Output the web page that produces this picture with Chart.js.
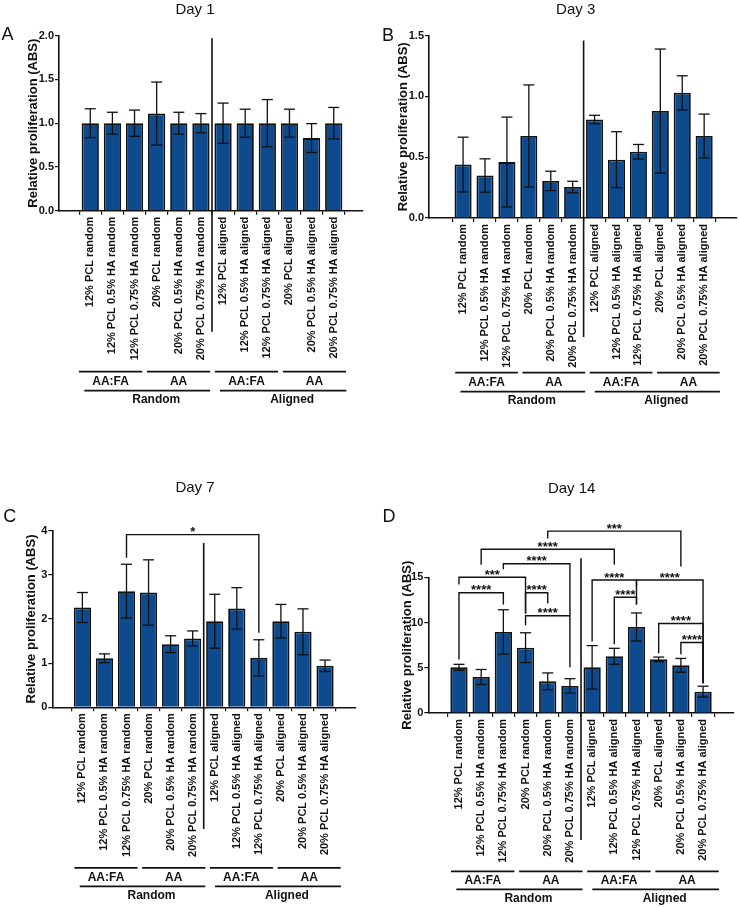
<!DOCTYPE html>
<html>
<head>
<meta charset="utf-8">
<script src="https://cdn.jsdelivr.net/npm/chart.js@4.4.1/dist/chart.umd.min.js"></script>
<style>
  body { margin: 0; background: #fff; width: 739px; height: 907px; position: relative; overflow: hidden; }
  .panel { position: absolute; }
</style>
</head>
<body>
<div class="panel" style="left:0;top:0;width:369px;height:420px"><canvas id="day1"></canvas></div>
<div class="panel" style="left:369px;top:0;width:370px;height:420px"><canvas id="day3"></canvas></div>
<div class="panel" style="left:0;top:470px;width:369px;height:437px"><canvas id="day7"></canvas></div>
<div class="panel" style="left:369px;top:470px;width:370px;height:437px"><canvas id="day14"></canvas></div>
<script>
// scaffold groups, same order in every panel
const groups = [
  '12% PCL random', '12% PCL 0.5% HA random', '12% PCL 0.75% HA random',
  '20% PCL random', '20% PCL 0.5% HA random', '20% PCL 0.75% HA random',
  '12% PCL aligned', '12% PCL 0.5% HA aligned', '12% PCL 0.75% HA aligned',
  '20% PCL aligned', '20% PCL 0.5% HA aligned', '20% PCL 0.75% HA aligned'
];
const mediumGroups = ['AA:FA', 'AA', 'AA:FA', 'AA'];   // 3 bars each
const fiberGroups = ['Random', 'Aligned'];            // 6 bars each

// mean and error (SD)
const day1Mean = [1.0, 1.0, 1.0, 1.11, 1.0, 1.0, 1.0, 1.0, 1.0, 1.0, 0.83, 1.0];
const day1Err = [0.165, 0.125, 0.15, 0.36, 0.125, 0.11, 0.23, 0.16, 0.27, 0.16, 0.165, 0.18];
const day3Mean = [0.44, 0.35, 0.46, 0.675, 0.305, 0.255, 0.81, 0.48, 0.545, 0.88, 1.03, 0.675];
const day3Err = [0.225, 0.137, 0.37, 0.42, 0.08, 0.047, 0.035, 0.23, 0.06, 0.51, 0.14, 0.18];
const day7Mean = [2.26, 1.11, 2.63, 2.6, 1.43, 1.56, 1.95, 2.24, 1.12, 1.95, 1.71, 0.94];
const day7Err = [0.34, 0.1, 0.61, 0.74, 0.19, 0.17, 0.61, 0.47, 0.41, 0.38, 0.52, 0.13];
const day14Mean = [5.05, 3.98, 8.96, 7.22, 3.5, 2.99, 5.05, 6.27, 9.51, 5.93, 5.27, 2.36];
const day14Err = [0.33, 0.83, 2.45, 1.65, 0.93, 0.8, 2.4, 0.88, 1.55, 0.25, 0.76, 0.6];

// significance: [barA, barB, bracket top, end of leg A, end of leg B, label] (y in data units)
const day7Brackets = [
  [2, 8, 3.91, 3.39, 1.69, '*']
];
const day14Brackets = [
  [4, 10, 20.1, 19.3, 16.2, '***'],
  [1, 7, 18.1, 16.4, 16.4, '****'],
  [2, 5, 16.5, 15.9, 10.75, '****'],
  [0, 3, 15.0, 14.2, 11.0, '***'],
  [0, 2, 13.3, 5.9, 12.0, '****'],
  [3, 4, 13.3, 11.0, 12.1, '****'],
  [3, 5, 10.75, 9.7, 5.05, '****'],
  [6, 8, 14.7, 7.9, 14.0, '****'],
  [7, 8, 12.8, 7.6, 12.0, '****'],
  [8, 11, 14.7, 12.0, 3.3, '****'],
  [9, 11, 9.9, 6.6, 3.3, '****'],
  [10, 11, 7.8, 6.5, 3.3, '****']
];

const ink = '#111';
const barBlue = '#0d4a8e';
const fontFamily = '"Liberation Sans", Arial, Helvetica, sans-serif';
Chart.defaults.font.family = fontFamily;

// error bars, divider, brackets, group lines, titles
const panelDecor = {
  id: 'panelDecor',
  afterDatasetsDraw(chart, args, o) {
    const { ctx, chartArea: area, scales: { x, y } } = chart;
    const pts = chart.data.datasets[0].data;
    const line = (x1, y1, x2, y2) => { ctx.beginPath(); ctx.moveTo(x1, y1); ctx.lineTo(x2, y2); ctx.stroke(); };
    ctx.save();
    ctx.strokeStyle = ink;
    ctx.fillStyle = ink;

    // error bars
    ctx.lineWidth = 1.3;
    pts.forEach((p, i) => {
      const cx = x.getPixelForValue(p.x);
      const hi = y.getPixelForValue(p.y + o.err[i]);
      const lo = y.getPixelForValue(p.y - o.err[i]);
      line(cx, hi, cx, lo);
      line(cx - 5.5, hi, cx + 5.5, hi);
      line(cx - 5.5, lo, cx + 5.5, lo);
    });

    // random / aligned divider
    ctx.lineWidth = 1.6;
    const dx = x.getPixelForValue(5.5);
    line(dx, y.getPixelForValue(o.dividerTop), dx, area.bottom + o.dividerDrop);

    // significance brackets
    ctx.lineWidth = 1.4;
    ctx.font = 'bold 13px ' + fontFamily;
    ctx.textAlign = 'center';
    ctx.textBaseline = 'alphabetic';
    (o.brackets || []).forEach(([a, b, top, endA, endB, label]) => {
      const xa = x.getPixelForValue(a), xb = x.getPixelForValue(b), yt = y.getPixelForValue(top);
      ctx.beginPath();
      ctx.moveTo(xa, y.getPixelForValue(endA));
      ctx.lineTo(xa, yt);
      ctx.lineTo(xb, yt);
      ctx.lineTo(xb, y.getPixelForValue(endB));
      ctx.stroke();
      ctx.fillText(label, (xa + xb) / 2, yt + 1.5);
    });

    // group lines under the tick labels
    const base = area.bottom;
    const [l1, t1, l2, t2] = o.groupY;
    ctx.lineWidth = 1.8;
    ctx.font = 'bold 12px ' + fontFamily;
    ctx.textBaseline = 'middle';
    mediumGroups.forEach((name, k) => {
      const xa = x.getPixelForValue(3.07 * k - 0.36 + o.shift);
      const xb = x.getPixelForValue(3.07 * k + 2.5 + o.shift);
      line(xa, base + l1, xb, base + l1);
      ctx.fillText(name, (xa + xb) / 2, base + t1);
    });
    fiberGroups.forEach((name, k) => {
      const xa = x.getPixelForValue(6.13 * k - 0.12 + o.shift);
      const xb = x.getPixelForValue(6.15 * k + 5.57 + o.shift);
      line(xa, base + l2, xb, base + l2);
      ctx.fillText(name, (xa + xb) / 2 + 9, base + t2);
    });

    // panel title and letter
    ctx.font = '15px ' + fontFamily;
    ctx.fillText(o.title, o.titleAt[0], o.titleAt[1]);
    ctx.font = '18px ' + fontFamily;
    ctx.fillText(o.letter, o.letterAt[0], o.letterAt[1]);
    ctx.restore();
  }
};

function makePanel(canvasId, p) {
  return new Chart(document.getElementById(canvasId), {
    type: 'bar',
    data: {
      datasets: [{
        data: p.mean.map((v, i) => ({ x: i, y: v })),
        backgroundColor: barBlue,
        borderColor: ink,
        borderWidth: 1.8,
        barPercentage: 0.78,
        categoryPercentage: 1
      }]
    },
    plugins: [panelDecor],
    options: {
      responsive: true,
      maintainAspectRatio: false,
      animation: false,
      layout: { padding: { left: 0, right: p.padRight, top: p.padTop, bottom: 0 } },
      plugins: {
        legend: { display: false },
        tooltip: { enabled: false },
        title: { display: false },
        panelDecor: {
          err: p.err, brackets: p.brackets, title: p.title, titleAt: p.titleAt,
          letter: p.letter, letterAt: p.letterAt, dividerTop: p.dividerTop,
          dividerDrop: p.dividerDrop, groupY: p.groupY, shift: p.shift || 0
        }
      },
      scales: {
        x: {
          type: 'linear',
          min: p.xMin,
          max: p.xMax,
          afterBuildTicks: s => { s.ticks = groups.map((g, i) => ({ value: i })); },
          afterFit: s => { s.height = p.xHeight; },
          ticks: {
            autoSkip: false, minRotation: 90, maxRotation: 90, padding: 2,
            color: ink, font: { size: 11, weight: 'bold' },
            callback: v => groups[v]
          },
          grid: { drawOnChartArea: false, tickLength: 4, color: ink, lineWidth: 1.2 },
          border: { color: ink, width: 1.6 }
        },
        y: {
          min: 0,
          max: p.yMax,
          afterFit: s => { s.width = p.yWidth; },
          ticks: {
            stepSize: p.yStep, padding: 1, color: ink, font: { size: 11, weight: 'bold' },
            callback: v => p.decimals ? v.toFixed(1) : v
          },
          title: {
            display: true, text: 'Relative proliferation (ABS)', color: ink,
            font: { size: 13, weight: 'bold' }, padding: { top: p.yTitlePad, bottom: 0 }
          },
          grid: { drawOnChartArea: false, tickLength: 4, color: ink, lineWidth: 1.2 },
          border: { color: ink, width: 1.6 }
        }
      }
    }
  });
}

makePanel('day1', {
  mean: day1Mean, err: day1Err, title: 'Day 1', titleAt: [195, 9.5], letter: 'A', letterAt: [7.5, 35.5],
  yMax: 2, yStep: 0.5, decimals: true, yWidth: 59, xHeight: 209.3, padRight: 6, padTop: 35.7,
  xMin: -0.84, xMax: 11.75, yTitlePad: 25.2, dividerTop: 1.97, dividerDrop: 121,
  groupY: [161, 171, 180, 188.6], shift: -0.15
});
makePanel('day3', {
  mean: day3Mean, err: day3Err, title: 'Day 3', titleAt: [206.7, 9.5], letter: 'B', letterAt: [19, 36.5],
  yMax: 1.5, yStep: 0.5, decimals: true, yWidth: 60, xHeight: 202, padRight: 2.3, padTop: 35.7,
  xMin: -0.97, xMax: 11.9, yTitlePad: 26.4, dividerTop: 1.46, dividerDrop: 119,
  groupY: [154.7, 164.7, 173.7, 182.7]
});
makePanel('day7', {
  mean: day7Mean, err: day7Err, brackets: day7Brackets, title: 'Day 7', titleAt: [195, 18], letter: 'C', letterAt: [9.7, 47.5],
  yMax: 4, yStep: 1, decimals: false, yWidth: 52.3, xHeight: 199.7, padRight: 13, padTop: 60.7,
  xMin: -0.79, xMax: 11.83, yTitlePad: 23.9, dividerTop: 3.72, dividerDrop: 121.7,
  groupY: [160.6, 170, 179, 188.3]
});
makePanel('day14', {
  mean: day14Mean, err: day14Err, brackets: day14Brackets, title: 'Day 14', titleAt: [202.7, 19], letter: 'D', letterAt: [20, 47.5],
  yMax: 15, yStep: 5, decimals: false, yWidth: 59.3, xHeight: 194, padRight: 5.7, padTop: 107.3,
  xMin: -0.81, xMax: 11.79, yTitlePad: 30.7, dividerTop: 17.1, dividerDrop: 127,
  groupY: [158.3, 168, 176.3, 186]
});
</script>
</body>
</html>
